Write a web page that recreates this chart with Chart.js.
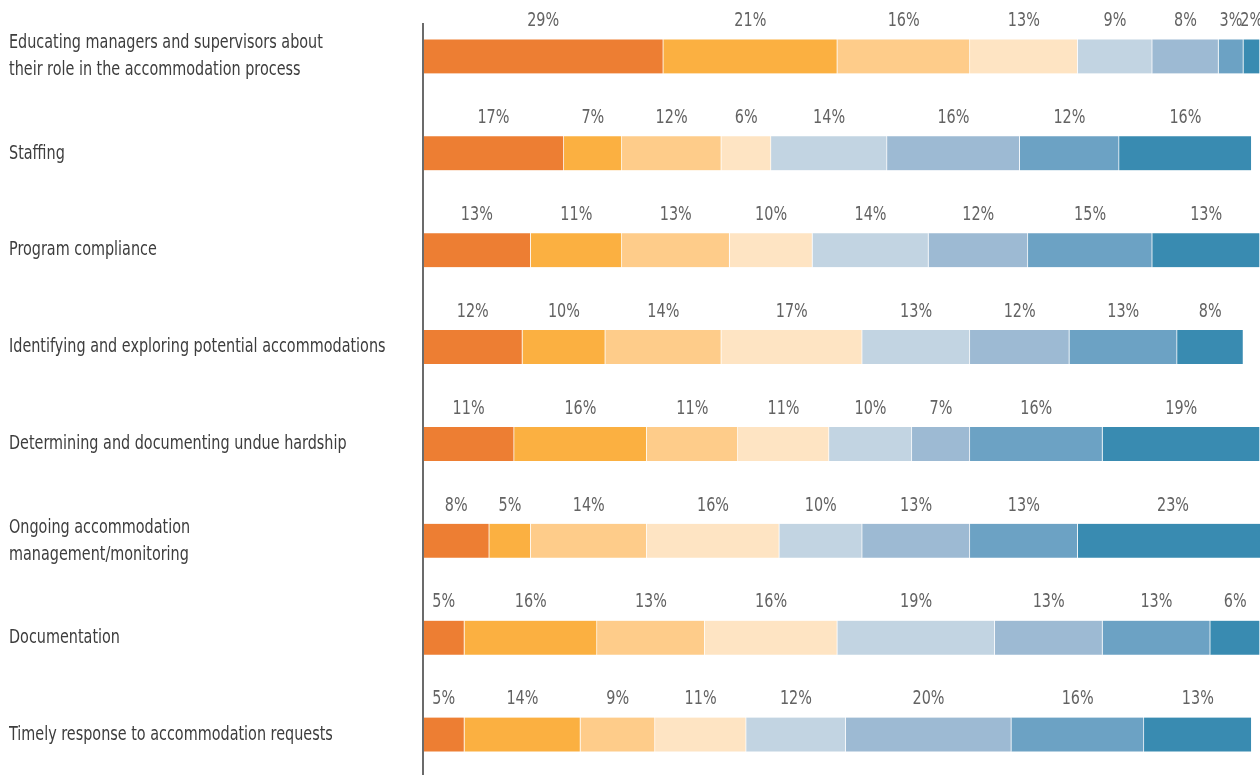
<!DOCTYPE html>
<html>
<head>
<meta charset="utf-8">
<style>
  html, body { margin: 0; padding: 0; background: #ffffff; overflow: hidden; }
  #wrap { position: relative; width: 1260px; height: 783px; }
</style>
<script src="https://cdn.jsdelivr.net/npm/chart.js@4.4.1/dist/chart.umd.min.js"></script>
</head>
<body>
<div id="wrap"><canvas id="chart"></canvas></div>
<script>
// Accommodation-process areas (multi-line labels as arrays)
const categories = [
  ['Educating managers and supervisors about', 'their role in the accommodation process'],
  'Staffing',
  'Program compliance',
  'Identifying and exploring potential accommodations',
  'Determining and documenting undue hardship',
  ['Ongoing accommodation', 'management/monitoring'],
  'Documentation',
  'Timely response to accommodation requests'
];

// Share of responses (%) for each ranking position, one value per area
const rank1 = [29, 17, 13, 12, 11, 8, 5, 5];
const rank2 = [21, 7, 11, 10, 16, 5, 16, 14];
const rank3 = [16, 12, 13, 14, 11, 14, 13, 9];
const rank4 = [13, 6, 10, 17, 11, 16, 16, 11];
const rank5 = [9, 14, 14, 13, 10, 10, 19, 12];
const rank6 = [8, 16, 12, 12, 7, 13, 13, 20];
const rank7 = [3, 12, 15, 13, 16, 13, 13, 16];
const rank8 = [2, 16, 13, 8, 19, 23, 6, 13];

const seriesNames = ['Rank 1', 'Rank 2', 'Rank 3', 'Rank 4', 'Rank 5', 'Rank 6', 'Rank 7', 'Rank 8'];
const seriesValues = [rank1, rank2, rank3, rank4, rank5, rank6, rank7, rank8];
const seriesColors = ['#ED7E33', '#FBB041', '#FECC8A', '#FEE4C3', '#C2D4E2', '#9DBAD3', '#6CA2C4', '#398BB1'];

const FONT = '"DejaVu Sans Condensed", "DejaVu Sans", sans-serif';
const NARROW = 0.8; // horizontal squeeze for a narrow typeface look

// Percentage labels centred above each segment
const segmentLabels = {
  id: 'segmentLabels',
  afterDatasetsDraw(chart) {
    const ctx = chart.ctx;
    chart.data.datasets.forEach((ds, i) => {
      const meta = chart.getDatasetMeta(i);
      meta.data.forEach((bar, j) => {
        const cx = (bar.x + bar.base) / 2;
        ctx.save();
        ctx.font = '20px ' + FONT;
        ctx.fillStyle = '#636363';
        ctx.textAlign = 'center';
        ctx.textBaseline = 'middle';
        ctx.translate(cx, bar.y - 35.5);
        ctx.scale(NARROW, 1);
        ctx.fillText(ds.data[j] + '%', 0, 0);
        ctx.restore();
      });
    });
  }
};

// Narrow the category tick labels and drop the scale's edge padding
const narrowTicks = {
  id: 'narrowTicks',
  afterLayout(chart) {
    const s = chart.scales.y;
    if (s && !s._narrowed) {
      const draw = s.drawLabels;
      // widen the label clip so the squeezed text is not cut off
      s._computeLabelArea = function () {
        return { top: 0, left: this.left, bottom: this.chart.height, right: this.left + this.width / NARROW };
      };
      s.drawLabels = function (area) {
        const ctx = this.ctx;
        ctx.save();
        ctx.translate(this.left, 0);
        ctx.scale(NARROW, 1);
        ctx.translate(-this.left, 0);
        draw.call(this, area);
        ctx.restore();
      };
      s._narrowed = true;
    }
  }
};

// Vertical baseline at the left edge of the bars
const baseline = {
  id: 'baseline',
  afterDraw(chart) {
    const ctx = chart.ctx;
    const area = chart.chartArea;
    const firstBar = chart.getDatasetMeta(0).data[0];
    ctx.save();
    ctx.strokeStyle = '#6b6b6b';
    ctx.lineWidth = 2;
    ctx.beginPath();
    ctx.moveTo(area.left, firstBar.y - 33.5);
    ctx.lineTo(area.left, chart.height);
    ctx.stroke();
    ctx.restore();
  }
};

new Chart(document.getElementById('chart'), {
  type: 'bar',
  data: {
    labels: categories,
    datasets: seriesValues.map((vals, i) => ({
      label: seriesNames[i],
      data: vals,
      backgroundColor: seriesColors[i],
      borderColor: 'rgba(255,255,255,0.55)',
      borderWidth: { top: 0, bottom: 0, left: 0, right: 1 },
      borderSkipped: false,
      barThickness: 34
    }))
  },
  options: {
    indexAxis: 'y',
    responsive: true,
    maintainAspectRatio: false,
    animation: false,
    layout: { padding: { left: 9, top: 8, right: 0, bottom: 0 } },
    plugins: {
      legend: { display: false },
      tooltip: { enabled: false }
    },
    scales: {
      x: {
        stacked: true,
        display: false,
        min: 0,
        max: 101
      },
      y: {
        stacked: true,
        grid: { display: false },
        border: { display: false },
        afterFit(scale) {
          scale.width = 414;
          scale.paddingTop = 0;
          scale.paddingBottom = 0;
        },
        ticks: {
          crossAlign: 'far',
          padding: 0,
          color: '#3d3d3d',
          font: { family: FONT, size: 20, lineHeight: 1.35 }
        }
      }
    }
  },
  plugins: [segmentLabels, narrowTicks, baseline]
});
</script>
</body>
</html>
